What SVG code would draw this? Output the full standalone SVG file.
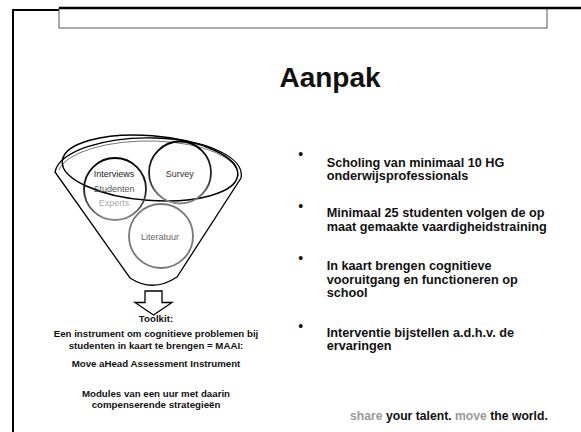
<svg xmlns="http://www.w3.org/2000/svg" width="581" height="432" viewBox="0 0 581 432">
<defs>
<linearGradient id="g1" x1="0" y1="0" x2="0" y2="1"><stop offset="0" stop-color="#000"/><stop offset="0.55" stop-color="#222"/><stop offset="1" stop-color="#888"/></linearGradient>
<style>
.sans{font-family:"Liberation Sans",Arial,sans-serif}
.b{font-weight:bold}
.lbl{font-family:"Liberation Sans",Arial,sans-serif;font-size:9px;text-anchor:middle}
.bul{font-family:"Liberation Sans",Arial,sans-serif;font-weight:bold;font-size:12.7px;fill:#111}
.dot{font-family:"Liberation Sans",Arial,sans-serif;font-size:14px;text-anchor:middle;fill:#111}
.cap{font-family:"Liberation Sans",Arial,sans-serif;font-weight:bold;font-size:9.7px;text-anchor:middle;fill:#111}
.ln{fill:none;stroke:#000}
</style>
</defs>
<rect width="581" height="432" fill="#fff"/>
<g id="frame">
<path class="ln" d="M13,432 V10 H59" stroke-width="2"/>
<rect x="59" y="8" width="488" height="20" fill="none" stroke="#555" stroke-width="1"/>
<path class="ln" d="M59,8 H581" stroke-width="2.5"/>
</g>
<g id="title"><text class="sans b" x="330" y="87" font-size="28" text-anchor="middle" fill="#111">Aanpak</text></g>
<g id="funnel">
<path d="M55,172 A93,37 0 0 1 241,178 L177,277 Q153,293 130,278 Z" fill="none" stroke="#000" stroke-width="1.3"/>
<path d="M59,170 A90,34 0 0 1 238,176" fill="none" stroke="#666" stroke-width="0.9"/>
<ellipse cx="150" cy="168" rx="88" ry="32.4" transform="rotate(4.5 150 168)" fill="none" stroke="#000" stroke-width="1.5"/>
</g>
<g id="interviews">
<circle cx="115" cy="189" r="31" fill="none" stroke="url(#g1)" stroke-width="1.8"/>
<text class="lbl" x="114" y="176.6" fill="#222">Interviews</text>
<text class="lbl" x="114" y="191.6" fill="#555">Studenten</text>
<text class="lbl" x="114" y="206.3" fill="#aaa">Experts</text>
</g>
<g id="survey">
<circle cx="180" cy="172.5" r="31" fill="none" stroke="url(#g1)" stroke-width="1.8"/>
<text class="lbl" x="179.7" y="176.6" fill="#333">Survey</text>
</g>
<g id="literatuur">
<circle cx="161" cy="236" r="32" fill="none" stroke="#777" stroke-width="1.8"/>
<text class="lbl" x="160" y="240" fill="#666">Literatuur</text>
</g>
<g id="arrow">
<path d="M145,291 H162 V302.5 H172 L153.5,315 L135,302.5 H145 Z" fill="#fff" stroke="#000" stroke-width="1.3"/>
</g>
<g id="toolkit">
<text class="cap" x="156" y="322.3">Toolkit:</text>
<text class="cap" x="156" y="337.3">Een instrument om cognitieve problemen bij</text>
<text class="cap" x="156" y="348.5">studenten in kaart te brengen = MAAI:</text>
<text class="cap" x="156" y="366.7">Move aHead Assessment Instrument</text>
<text class="cap" x="156" y="397.3">Modules van een uur met daarin</text>
<text class="cap" x="156" y="408.3">compenserende strategieën</text>
</g>
<g id="bullets">
<text class="dot" x="300.7" y="159">•</text>
<text class="bul" x="326.7" y="166.7">Scholing van minimaal 10 HG</text>
<text class="bul" x="326.7" y="180">onderwijsprofessionals</text>
<text class="dot" x="300.7" y="211">•</text>
<text class="bul" x="326.7" y="217.3">Minimaal 25 studenten volgen de op</text>
<text class="bul" x="326.7" y="231">maat gemaakte vaardigheidstraining</text>
<text class="dot" x="300.7" y="263">•</text>
<text class="bul" x="326.7" y="270">In kaart brengen cognitieve</text>
<text class="bul" x="326.7" y="283.5">vooruitgang en functioneren op</text>
<text class="bul" x="326.7" y="297.2">school</text>
<text class="dot" x="300.7" y="330.5">•</text>
<text class="bul" x="326.7" y="336.7">Interventie bijstellen a.d.h.v. de</text>
<text class="bul" x="326.7" y="350.3">ervaringen</text>
</g>
<g id="footer">
<text class="sans b" x="350" y="420" font-size="12.2"><tspan fill="#9a9a9a">share </tspan><tspan fill="#111">your talent. </tspan><tspan fill="#9a9a9a">move </tspan><tspan fill="#111">the world.</tspan></text>
</g>
</svg>
